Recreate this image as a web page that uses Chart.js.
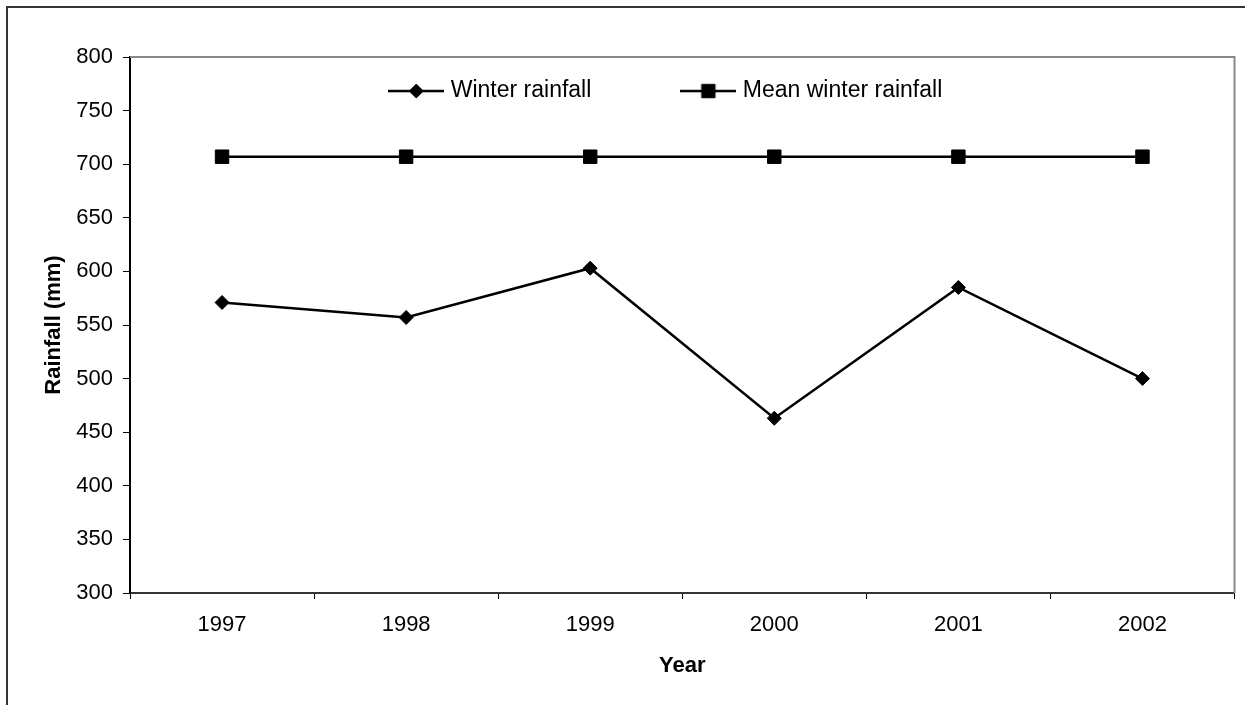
<!DOCTYPE html>
<html lang="en">
<head>
    <meta charset="UTF-8">
    <title>Winter rainfall</title>
    <script src="https://cdn.jsdelivr.net/npm/chart.js"></script>
    <style>
        html, body {
            margin: 0;
            padding: 0;
            background: #fff;
            overflow: hidden;
        }
        .frame {
            position: absolute;
            left: 6px;
            top: 6px;
            width: 1300px;
            height: 800px;
            border: 2px solid #333;
        }
        .chart-box {
            position: absolute;
            left: 0;
            top: 0;
            width: 1245px;
            height: 705px;
        }
    </style>
</head>
<body>
    <div class="frame"></div>
    <div class="chart-box">
        <canvas id="rainChart"></canvas>
    </div>

    <script>
        // values
        const years = ['1997', '1998', '1999', '2000', '2001', '2002'];
        const winterRainfall = [571, 557, 603, 463, 585, 500];
        const meanWinterRainfall = [707, 707, 707, 707, 707, 707];
        const seriesNames = ['Winter rainfall', 'Mean winter rainfall'];

        const FONT = '"Liberation Sans", Arial, sans-serif';

        // small line + marker picture used as the legend symbol
        function legendIcon(style, radius) {
            const c = document.createElement('canvas');
            c.width = 56;
            c.height = 24;
            const g = c.getContext('2d');
            g.strokeStyle = '#000';
            g.lineWidth = 2.5;
            g.beginPath();
            g.moveTo(0, 12);
            g.lineTo(56, 12);
            g.stroke();
            g.fillStyle = '#000';
            g.lineWidth = 1;
            Chart.helpers.drawPoint(g, { pointStyle: style, radius: radius, borderWidth: 1 }, 28, 12);
            return c;
        }
        const icons = [legendIcon('rectRot', 7), legendIcon('rect', 9.5)];

        // legend sits inside the plot, a bit left of centre
        const legendPlace = {
            id: 'legendPlace',
            afterLayout(chart) {
                const lg = chart.legend;
                const a = chart.chartArea;
                const opts = lg.options.labels;
                lg.left = a.left - 29;
                lg.right = a.right;
                lg.top = a.top + 34 - opts.padding - opts.font.size / 2;
                lg.bottom = a.top + 34 + opts.font.size;
                lg.width = lg.right - lg.left;
                lg.height = lg.bottom - lg.top;
            }
        };

        // grey top and right edges of the plot area
        const plotEdges = {
            id: 'plotEdges',
            afterDraw(chart) {
                const { ctx, chartArea: a } = chart;
                ctx.save();
                ctx.strokeStyle = '#888';
                ctx.lineWidth = 2;
                ctx.beginPath();
                ctx.moveTo(a.left, a.top);
                ctx.lineTo(a.right, a.top);
                ctx.lineTo(a.right, a.bottom);
                ctx.stroke();
                ctx.restore();
            }
        };

        Chart.defaults.font.family = FONT;
        Chart.defaults.color = '#000';

        const ctx = document.getElementById('rainChart').getContext('2d');
        const rainChart = new Chart(ctx, {
            type: 'line',
            data: {
                labels: years,
                datasets: [{
                    label: seriesNames[0],
                    data: winterRainfall,
                    borderColor: '#000',
                    backgroundColor: '#000',
                    borderWidth: 2.5,
                    pointStyle: 'rectRot',
                    pointRadius: 7,
                    pointBorderWidth: 1,
                    tension: 0
                }, {
                    label: seriesNames[1],
                    data: meanWinterRainfall,
                    borderColor: '#000',
                    backgroundColor: '#000',
                    borderWidth: 2.5,
                    pointStyle: 'rect',
                    pointRadius: 9.5,
                    pointBorderWidth: 1,
                    tension: 0
                }]
            },
            options: {
                responsive: true,
                maintainAspectRatio: false,
                animation: false,
                layout: { padding: { top: 57, right: 7, bottom: 0, left: 0 } },
                plugins: {
                    tooltip: { enabled: false },
                    legend: {
                        position: 'top',
                        maxHeight: 0.001,
                        labels: {
                            usePointStyle: true,
                            pointStyleWidth: 46,
                            padding: 94,
                            color: '#000',
                            font: { size: 23 },
                            generateLabels: chart =>
                                Chart.defaults.plugins.legend.labels.generateLabels(chart)
                                    .map((item, i) => ({ ...item, pointStyle: icons[i] }))
                        }
                    }
                },
                scales: {
                    x: {
                        offset: true,
                        grid: { offset: true, drawOnChartArea: false, tickLength: 6, color: '#000' },
                        border: { color: '#333', width: 2 },
                        ticks: { color: '#000', font: { size: 22 }, padding: 13 },
                        title: {
                            display: true,
                            text: 'Year',
                            color: '#000',
                            font: { size: 22, weight: 'bold' },
                            padding: { top: 0, bottom: 26 }
                        },
                        afterFit: s => { s.height = 112; }
                    },
                    y: {
                        min: 300,
                        max: 800,
                        grid: { drawOnChartArea: false, tickLength: 7, color: '#000' },
                        border: { color: '#000', width: 2 },
                        ticks: { stepSize: 50, color: '#000', font: { size: 22 }, padding: 10 },
                        title: {
                            display: true,
                            text: 'Rainfall (mm)',
                            color: '#000',
                            font: { size: 22, weight: 'bold' },
                            padding: { top: 41, bottom: 0 }
                        },
                        afterFit: s => { s.width = 130; }
                    }
                }
            },
            plugins: [legendPlace, plotEdges]
        });
    </script>
</body>
</html>
